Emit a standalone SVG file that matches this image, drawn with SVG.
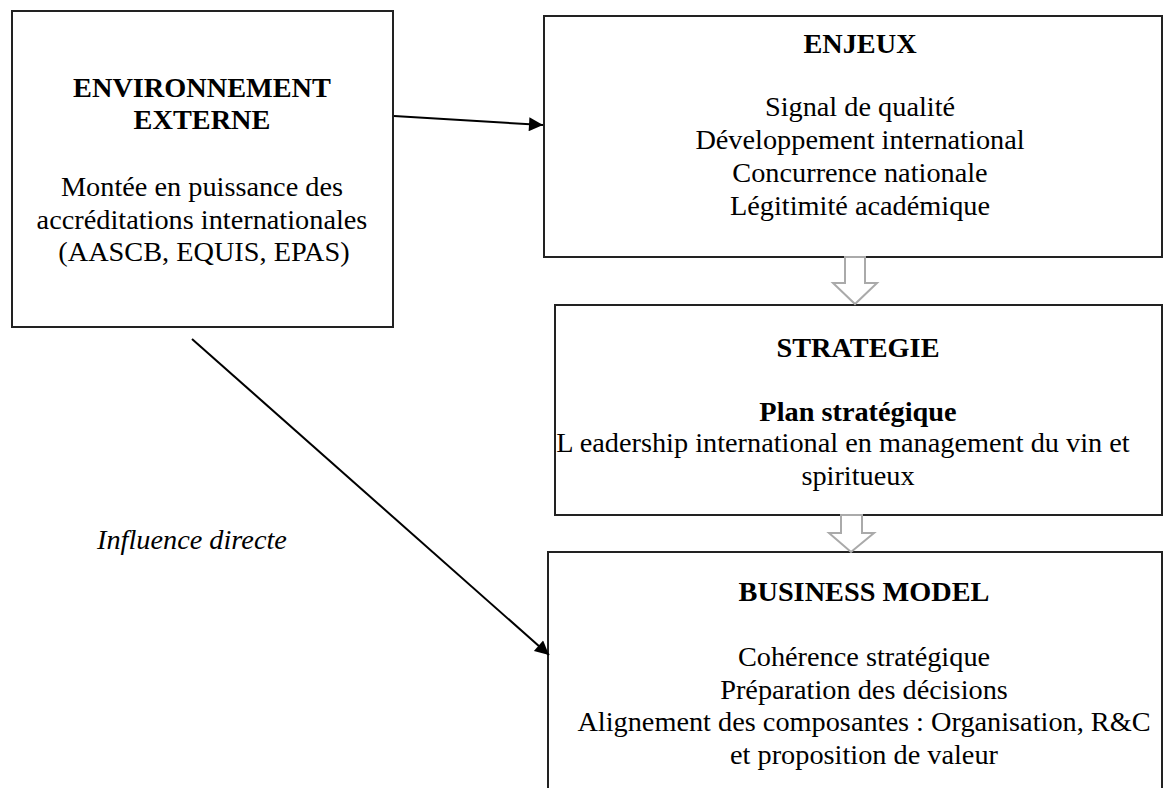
<svg xmlns="http://www.w3.org/2000/svg" width="1164" height="788" viewBox="0 0 1164 788">
<style>
.box{fill:#fff;stroke:#222;stroke-width:2}
.t{font-family:"Liberation Serif","Times New Roman",serif;font-size:28.3px;fill:#000;text-anchor:middle}
.b{font-weight:bold}
.i{font-style:italic;text-anchor:start}
.hol{fill:#fff;stroke:#aaa;stroke-width:2}
.con{stroke:#000;stroke-width:2;fill:none}
</style>
<defs>
<marker id="ah2" viewBox="0 0 10 10" refX="10" refY="5" markerWidth="18" markerHeight="14" orient="auto" markerUnits="userSpaceOnUse">
<path d="M0,0 L10,5 L0,10 z" fill="#000"/>
</marker>
</defs>
<rect width="1164" height="788" fill="#fff"/>
<g id="env">
<rect class="box" x="12" y="11" width="381" height="316"/>
<text class="t b" x="202" y="97">ENVIRONNEMENT</text>
<text class="t b" x="202" y="129">EXTERNE</text>
<text class="t" x="202" y="196">Montée en puissance des</text>
<text class="t" x="202" y="229">accréditations internationales</text>
<text class="t" x="204" y="261">(AASCB, EQUIS, EPAS)</text>
</g>
<g id="enjeux">
<rect class="box" x="544" y="16" width="618" height="241"/>
<text class="t b" x="860" y="53">ENJEUX</text>
<text class="t" x="860" y="116">Signal de qualité</text>
<text class="t" x="860" y="149">Développement international</text>
<text class="t" x="860" y="182">Concurrence nationale</text>
<text class="t" x="860" y="215">Légitimité académique</text>
</g>
<g id="strategie">
<rect class="box" x="555" y="305" width="607" height="210"/>
<text class="t b" x="858" y="357">STRATEGIE</text>
<text class="t b" x="858" y="421">Plan stratégique</text>
<text class="t" x="843" y="452">L eadership international en management du vin et</text>
<text class="t" x="858" y="485">spiritueux</text>
</g>
<g id="business">
<rect class="box" x="548" y="552" width="614" height="260"/>
<text class="t b" x="864" y="601">BUSINESS MODEL</text>
<text class="t" x="864" y="666">Cohérence stratégique</text>
<text class="t" x="864" y="699">Préparation des décisions</text>
<text class="t" x="864" y="731">Alignement des composantes : Organisation, R&amp;C</text>
<text class="t" x="864" y="764">et proposition de valeur</text>
</g>
<g id="label">
<text class="t i" x="97" y="549">Influence directe</text>
</g>
<g id="connectors">
<line class="con" x1="394" y1="116" x2="543" y2="125" marker-end="url(#ah2)"/>
<line class="con" x1="192" y1="339" x2="549" y2="655" marker-end="url(#ah2)"/>
<path class="hol" d="M845,257 L865,257 L865,283 L877,283 L855,304 L833,283 L845,283 z"/>
<path class="hol" d="M841,515 L862,515 L862,533 L874,533 L851,552 L829,533 L841,533 z"/>
</g>
</svg>
